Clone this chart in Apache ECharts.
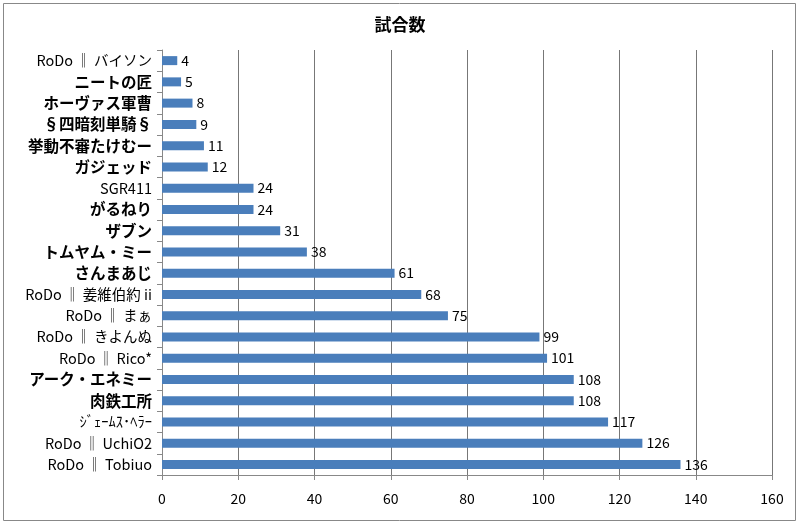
<!DOCTYPE html>
<html><head><meta charset="utf-8">
<script src="https://cdn.jsdelivr.net/npm/echarts@6/dist/echarts.min.js"></script>
<style>html,body{margin:0;padding:0;background:#fff}#c{width:800px;height:525px}</style>
</head><body><div id="c"></div>
<script>
const categories = ['RoDo ‖ バイソン','ニートの匠','ホーヴァス軍曹','§四暗刻単騎§','挙動不審たけむー','ガジェッド','SGR411','がるねり','ザブン','トムヤム・ミー','さんまあじ','RoDo ‖ 姜維伯約 ii','RoDo ‖ まぁ','RoDo ‖ きよんぬ','RoDo ‖ Rico*','アーク・エネミー','肉鉄工所','ｼﾞｪｰﾑｽ･ﾍﾗｰ','RoDo ‖ UchiO2','RoDo ‖ Tobiuo'];
const boldCats = ['ニートの匠','ホーヴァス軍曹','§四暗刻単騎§','挙動不審たけむー','ガジェッド','がるねり','ザブン','トムヤム・ミー','さんまあじ','アーク・エネミー','肉鉄工所'];
const values = [4,5,8,9,11,12,24,24,31,38,61,68,75,99,101,108,108,117,126,136];
const title = '試合数';
const font = '"Noto Sans CJK JP", sans-serif';
const chart = echarts.init(document.getElementById('c'));
chart.setOption({
  animation:false,
  title:{text:title,left:'center',top:11,textStyle:{fontFamily:font,fontSize:17,fontWeight:'bold',color:'#000'}},
  graphic:[{type:'rect',shape:{x:3.5,y:3.5,width:792,height:517},style:{fill:'none',stroke:'#888',lineWidth:1}}],
  grid:{left:162,right:28,top:50,bottom:50},
  xAxis:{type:'value',min:0,max:160,interval:20,
    axisLine:{show:true,lineStyle:{color:'#888'}},
    axisTick:{show:true,length:5,lineStyle:{color:'#888'}},
    axisLabel:{fontFamily:font,fontSize:14,color:'#000',margin:17},
    splitLine:{show:true,lineStyle:{color:'#777',width:1}}},
  yAxis:{type:'category',inverse:true,
    data:categories.map(c=>boldCats.includes(c)
      ? {value:c,textStyle:{fontWeight:'bold',fontSize:15.5}}
      : {value:c,textStyle:{fontWeight:'normal',fontSize:14.5}}),
    axisLine:{show:true,lineStyle:{color:'#888'}},
    axisTick:{show:true,length:5,lineStyle:{color:'#888'}},
    axisLabel:{fontFamily:font,fontSize:14,color:'#000',margin:10},
    splitLine:{show:false}},
  series:[{type:'bar',data:values,barWidth:9,itemStyle:{color:'#4a7ebb'},
    label:{show:true,position:'right',distance:4,fontFamily:font,fontSize:14,color:'#000'}}]
});
</script></body></html>
